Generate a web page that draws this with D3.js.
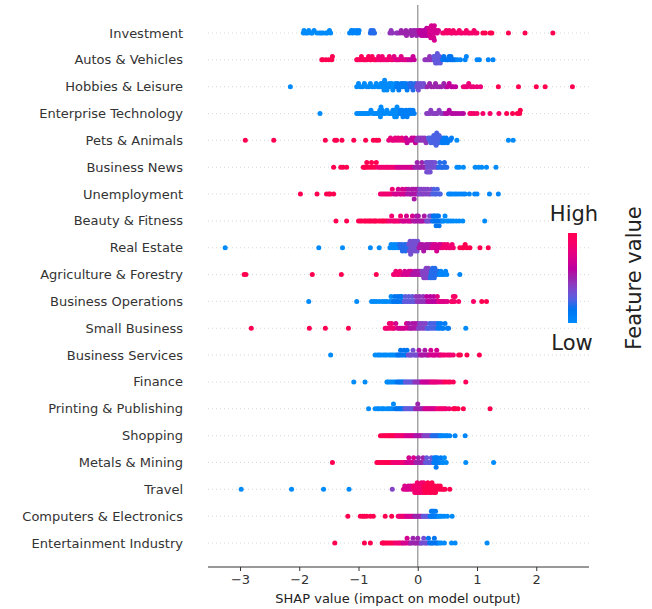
<!DOCTYPE html>
<html><head><meta charset="utf-8">
<script src="https://cdn.jsdelivr.net/npm/d3@7"></script>
<style>body{margin:0;background:#fff}svg{display:block}text{font-family:"DejaVu Sans",sans-serif}</style>
</head><body><div id="chart"></div>
<script>
const features = ["Investment","Autos & Vehicles","Hobbies & Leisure","Enterprise Technology","Pets & Animals","Business News","Unemployment","Beauty & Fitness","Real Estate","Agriculture & Forestry","Business Operations","Small Business","Business Services","Finance","Printing & Publishing","Shopping","Metals & Mining","Travel","Computers & Electronics","Entertainment Industry"];

// For every feature row: groups of [feature value (0 = low, 1 = high), SHAP values]
const shapGroups = [
 [[0,[-1.93,-1.92,-1.89,-1.86,-1.84,-1.8,-1.78,-1.75,-1.7,-1.66,-1.63,-1.6,-1.55,-1.53,-1.49,-1.47]],
  [0.05,[-1.15,-1.12,-1.1,-1.08,-1.04,-1.03,-1.0,-0.99]],
  [0.2,[-0.8,-0.79,-0.76,-0.75,-0.73]],
  [0.45,[-0.47,-0.45,-0.43,-0.36,-0.34]],
  [0.5,[-0.3,-0.28,-0.25,-0.22,-0.2,-0.19,-0.17,-0.14,-0.12,-0.1,-0.09,-0.07,-0.05,-0.03,-0.02,0.0]],
  [0.6,[0.02,0.03,0.05,0.06,0.08,0.1,0.1,0.12,0.13,0.14,0.15,0.16,0.17,0.18]],
  [0.7,[0.19,0.2,0.2,0.21,0.22,0.22,0.23,0.24,0.25,0.25,0.26,0.27,0.28,0.28,0.3,0.31,0.33,0.35]],
  [0.88,[0.42,0.45,0.48,0.5,0.53,0.56,0.58,0.6,0.63,0.66,0.7,0.72,0.75,0.8,0.82,0.85,0.88,0.92,0.95,0.97,1.0]],
  [1,[1.1,1.14,1.22,1.25,1.53,1.81,2.28]]],
 [[1,[-1.62,-1.6,-1.55,-1.5,-1.45,-1.44]],
  [0.95,[-1.03,-1.02,-0.99,-0.96,-0.95,-0.92,-0.9,-0.88,-0.85,-0.83,-0.8,-0.79,-0.77,-0.74,-0.72,-0.7]],
  [0.85,[-0.67,-0.66,-0.63,-0.62,-0.6,-0.58,-0.55,-0.52,-0.5,-0.48,-0.45,-0.42]],
  [0.75,[-0.4,-0.37,-0.35,-0.33,-0.3,-0.28,-0.25,-0.22,-0.2,-0.17]],
  [0.65,[-0.15,-0.12,-0.1,-0.08,-0.06]],
  [0.45,[0.12,0.14,0.17,0.19,0.2,0.22,0.25]],
  [0.3,[0.27,0.28,0.3,0.3,0.31,0.32,0.33,0.33,0.34,0.35,0.36,0.37,0.38,0.4]],
  [0.15,[0.42,0.44,0.47,0.5,0.51,0.53,0.55,0.56,0.58,0.6,0.63]],
  [0.03,[0.67,0.72,0.8,0.82,1.0,1.04,1.19,1.27]]],
 [[0,[-2.15,-1.03,-1.0,-0.97,-0.93,-0.9,-0.86,-0.83,-0.8,-0.77,-0.73,-0.7,-0.67,-0.64,-0.62,-0.6,-0.59,-0.57,-0.56,-0.55,-0.54,-0.52,-0.5,-0.48,-0.46,-0.44,-0.42,-0.4,-0.38]],
  [0.1,[-0.36,-0.34,-0.32,-0.3,-0.28,-0.26,-0.24,-0.22,-0.2,-0.18,-0.16]],
  [0.2,[-0.14,-0.12,-0.1,-0.08,-0.06,-0.04]],
  [0.35,[-0.02,0.0,0.01,0.03,0.05,0.07,0.1,0.13]],
  [0.5,[0.16,0.2,0.23,0.27,0.3,0.33,0.37,0.4,0.44,0.47]],
  [0.62,[0.5,0.53,0.57,0.6,0.64]],
  [0.82,[0.77,0.8,0.83,0.86,0.9,0.94,1.0,1.06]],
  [1,[1.36,1.7,2.0,2.15,2.61]]],
 [[0,[-1.65,-1.03,-1.0,-0.97,-0.94,-0.91,-0.88,-0.85,-0.82,-0.79,-0.76,-0.73,-0.7,-0.67,-0.65,-0.64,-0.63,-0.62,-0.61,-0.6,-0.58,-0.55,-0.52,-0.49,-0.46,-0.43,-0.42,-0.41,-0.4,-0.39,-0.38,-0.37,-0.36,-0.35,-0.34,-0.32]],
  [0.08,[-0.3,-0.29,-0.27,-0.26,-0.25,-0.23,-0.21,-0.2,-0.18,-0.16,-0.15,-0.13,-0.12,-0.1,-0.08,-0.06]],
  [0.42,[0.15,0.17,0.2,0.22,0.25,0.28,0.3,0.33,0.36,0.4,0.43]],
  [0.58,[0.47,0.5,0.53,0.57,0.6,0.64,0.68,0.73,0.77]],
  [0.88,[0.88,0.91,0.95,1.0,1.1,1.22,1.37]],
  [1,[1.5,1.6,1.68,1.72,1.73]]],
 [[1,[-2.91,-2.43,-1.56,-1.4,-1.37,-1.28,-1.08,-0.88,-0.75,-0.7,-0.66]],
  [0.8,[-0.49,-0.46,-0.43,-0.4,-0.38,-0.35,-0.33,-0.3,-0.27,-0.25,-0.22]],
  [0.65,[-0.2,-0.18,-0.15,-0.13,-0.1,-0.08,-0.06,-0.04]],
  [0.45,[-0.02,0.0,0.02,0.04,0.06,0.08,0.1,0.12,0.14,0.16]],
  [0.25,[0.18,0.2,0.21,0.22,0.24,0.25,0.26,0.27,0.28,0.29,0.3,0.3,0.31,0.32,0.33,0.34,0.35,0.36,0.38,0.4]],
  [0.1,[0.41,0.42,0.44,0.45,0.46,0.48,0.5,0.52,0.55,0.57]],
  [0,[0.66,1.53,1.61]]],
 [[1,[-1.42,-1.3,-1.26,-1.2,-0.92,-0.9,-0.88,-0.86,-0.84,-0.8,-0.78,-0.76,-0.72,-0.7]],
  [0.85,[-0.67,-0.64,-0.61,-0.58,-0.55,-0.52,-0.5,-0.47,-0.44,-0.41,-0.38]],
  [0.7,[-0.35,-0.32,-0.3,-0.27,-0.24,-0.21,-0.18,-0.15,-0.12,-0.1,-0.08]],
  [0.5,[-0.05,-0.03,-0.01,0.01,0.03,0.05,0.07,0.09,0.11,0.13]],
  [0.35,[0.14,0.15,0.16,0.17,0.18,0.19,0.2,0.21,0.22,0.23,0.24,0.25,0.27,0.29,0.31,0.33]],
  [0.2,[0.35,0.37,0.39,0.41,0.43,0.45,0.47,0.49]],
  [0,[0.66,0.7,0.77,0.97,1.03,1.08,1.16,1.32]]],
 [[1,[-1.98,-1.7,-1.54,-1.5,-1.48,-1.42]],
  [0.85,[-0.63,-0.6,-0.57,-0.54,-0.51,-0.48,-0.45,-0.43]],
  [0.7,[-0.4,-0.37,-0.35,-0.33,-0.3,-0.28,-0.26,-0.24,-0.22,-0.2]],
  [0.55,[-0.18,-0.16,-0.14,-0.12,-0.1,-0.09,-0.07,-0.06,-0.04,-0.03,-0.01,0.0]],
  [0.4,[0.02,0.03,0.05,0.06,0.08,0.1,0.11,0.13,0.15,0.17,0.19,0.21,0.23]],
  [0.25,[0.25,0.27,0.29,0.31,0.33,0.36,0.38]],
  [0.03,[0.52,0.55,0.58,0.62,0.65,0.69,0.73,0.77,0.8,0.87,0.96,1.0,1.21,1.36]]],
 [[1,[-1.38,-1.2,-1.0,-0.97,-0.94,-0.9,-0.88,-0.85,-0.82,-0.8,-0.77,-0.74,-0.72,-0.7,-0.66,-0.63,-0.6,-0.58,-0.55,-0.52]],
  [0.85,[-0.49,-0.46,-0.44,-0.42,-0.4,-0.38,-0.36,-0.33,-0.31,-0.29]],
  [0.7,[-0.27,-0.25,-0.23,-0.21,-0.19,-0.17,-0.15,-0.13,-0.11,-0.09]],
  [0.55,[-0.07,-0.05,-0.03,-0.02,0.0,0.01,0.03,0.05,0.07,0.09,0.11,0.13]],
  [0.35,[0.15,0.17,0.19,0.2,0.22,0.23]],
  [0.15,[0.25,0.26,0.27,0.28,0.29,0.3,0.31,0.32,0.33,0.34,0.35,0.36,0.38,0.4]],
  [0,[0.42,0.44,0.46,0.49,0.52,0.56,0.6,0.65,0.7,0.76,1.13]]],
 [[0,[-3.25,-1.67,-1.27,-0.8,-0.65,-0.47,-0.45,-0.42,-0.4,-0.38,-0.35,-0.33]],
  [0.2,[-0.31,-0.29,-0.27,-0.26,-0.24,-0.22,-0.21,-0.19,-0.18,-0.16]],
  [0.35,[-0.15,-0.14,-0.13,-0.12,-0.11,-0.1,-0.09,-0.08,-0.07,-0.06,-0.05,-0.04,-0.03,-0.02,-0.01,0.0]],
  [0.55,[0.02,0.04,0.06,0.08,0.1,0.12,0.14,0.16,0.18,0.2,0.22]],
  [0.7,[0.24,0.26,0.28,0.3,0.32,0.34,0.36,0.38,0.4]],
  [0.85,[0.42,0.45,0.48,0.5,0.53,0.56,0.58,0.6]],
  [1,[0.71,0.75,0.77,0.8,0.83,0.88,1.05,1.19]]],
 [[1,[-2.93,-2.9,-1.78,-1.29,-0.7]],
  [0.85,[-0.41,-0.39,-0.37,-0.34,-0.32,-0.3,-0.27]],
  [0.7,[-0.25,-0.22,-0.2,-0.18,-0.15,-0.13,-0.11]],
  [0.55,[-0.09,-0.07,-0.05,-0.03,-0.01,0.01,0.03,0.05]],
  [0.4,[0.07,0.08,0.09,0.1,0.11,0.12,0.13,0.14,0.15,0.16,0.17,0.18,0.19,0.2]],
  [0.2,[0.21,0.22,0.23,0.24,0.25,0.26,0.27,0.28,0.29,0.3,0.31,0.33,0.35]],
  [0.03,[0.37,0.39,0.41,0.44,0.47,0.49,0.71]]],
 [[0,[-1.84,-1.03,-0.78,-0.74,-0.7,-0.65,-0.6,-0.56,-0.52,-0.47,-0.45,-0.43]],
  [0.15,[-0.41,-0.39,-0.37,-0.35,-0.34,-0.32,-0.3,-0.28,-0.27,-0.25]],
  [0.3,[-0.23,-0.21,-0.19,-0.17,-0.15,-0.13,-0.11,-0.09,-0.07,-0.05]],
  [0.45,[-0.03,-0.01,0.01,0.03,0.05,0.07,0.09,0.11,0.13]],
  [0.6,[0.15,0.17,0.19,0.21,0.23,0.25,0.27,0.29,0.31]],
  [0.75,[0.33,0.35,0.37,0.4,0.43,0.46,0.5]],
  [0.9,[0.57,0.58,0.6,0.62,0.63,0.69,0.94]],
  [1,[1.08,1.16]]],
 [[1,[-2.81,-1.83,-1.56,-1.17]],
  [0.85,[-0.55,-0.53,-0.5,-0.48,-0.46,-0.44,-0.42,-0.4]],
  [0.7,[-0.37,-0.34,-0.31,-0.28,-0.25,-0.22,-0.19,-0.17]],
  [0.55,[-0.15,-0.13,-0.11,-0.09,-0.07,-0.05,-0.03,-0.01]],
  [0.4,[0.01,0.03,0.04,0.06,0.08,0.1,0.12,0.14]],
  [0.25,[0.16,0.18,0.2,0.22,0.24,0.26,0.28,0.3,0.32]],
  [0.1,[0.34,0.35,0.37,0.39,0.41,0.43,0.46,0.5,0.52]],
  [0,[0.81]]],
 [[0,[-1.47,-0.72,-0.68,-0.65,-0.62,-0.58,-0.55,-0.52,-0.48,-0.45,-0.42,-0.39,-0.36]],
  [0.15,[-0.34,-0.32,-0.3,-0.29,-0.27,-0.25,-0.23,-0.21,-0.2,-0.18]],
  [0.35,[-0.16,-0.14,-0.12,-0.1,-0.08,-0.06,-0.04,-0.02,0.0]],
  [0.55,[0.02,0.04,0.06,0.08,0.1,0.12,0.14,0.16,0.18]],
  [0.7,[0.2,0.22,0.24,0.26,0.28,0.3,0.32,0.34,0.36,0.38]],
  [0.85,[0.4,0.43,0.46,0.5,0.53,0.56,0.6]],
  [1,[0.69,0.72,0.83,1.04]]],
 [[0,[-1.08,-0.89,-0.52,-0.5,-0.47,-0.44,-0.41,-0.38]],
  [0.15,[-0.35,-0.33,-0.31,-0.29,-0.27,-0.25,-0.23]],
  [0.3,[-0.21,-0.19,-0.17,-0.15,-0.13,-0.11,-0.09,-0.07]],
  [0.45,[-0.05,-0.03,-0.01,0.01,0.03,0.05]],
  [0.65,[0.07,0.09,0.11,0.13,0.15,0.17,0.19,0.21]],
  [0.8,[0.23,0.25,0.27,0.29,0.31,0.33,0.36,0.39,0.42]],
  [0.95,[0.45,0.48,0.52,0.55,0.6,0.81]]],
 [[0,[-0.83,-0.72,-0.68,-0.66,-0.62,-0.59,-0.57,-0.52,-0.49,-0.46,-0.43,-0.41]],
  [0.15,[-0.38,-0.36,-0.34,-0.32,-0.3,-0.28,-0.26,-0.24]],
  [0.3,[-0.22,-0.2,-0.18,-0.16,-0.14,-0.12,-0.1,-0.08,-0.06]],
  [0.5,[-0.04,-0.02,0.0,0.02,0.04,0.06,0.08,0.1]],
  [0.7,[0.12,0.14,0.16,0.18,0.2,0.22,0.24,0.26,0.28,0.3]],
  [0.85,[0.33,0.36,0.38,0.41,0.43,0.46,0.48,0.53]],
  [1,[0.6,0.62,0.64,0.68,0.77,1.22]]],
 [[1,[-0.63,-0.6,-0.57,-0.55,-0.52,-0.5,-0.48,-0.46,-0.44,-0.42,-0.4,-0.38]],
  [0.85,[-0.36,-0.34,-0.32,-0.3,-0.28,-0.26,-0.24,-0.22]],
  [0.7,[-0.2,-0.18,-0.16,-0.14,-0.12,-0.1,-0.08,-0.06]],
  [0.55,[-0.04,-0.02,0.0,0.02,0.04,0.06,0.08]],
  [0.4,[0.1,0.12,0.14,0.16,0.18,0.2,0.22]],
  [0.2,[0.24,0.26,0.28,0.3,0.32,0.34,0.36]],
  [0.03,[0.38,0.4,0.42,0.45,0.48,0.5,0.54,0.63,0.8]]],
 [[1,[-1.44,-0.69,-0.66,-0.63,-0.6,-0.57,-0.54,-0.51,-0.48,-0.45]],
  [0.85,[-0.42,-0.39,-0.36,-0.33,-0.3,-0.27,-0.24,-0.21]],
  [0.7,[-0.19,-0.17,-0.15,-0.13,-0.11,-0.09,-0.07,-0.05]],
  [0.5,[-0.03,-0.01,0.01,0.03,0.05,0.07,0.09,0.11]],
  [0.3,[0.13,0.15,0.17,0.19,0.21,0.23,0.25]],
  [0.1,[0.27,0.28,0.29,0.3,0.31,0.32,0.33,0.35,0.37,0.39]],
  [0,[0.41,0.43,0.45,0.48,0.81,1.28]]],
 [[0,[-2.98,-2.13,-1.59,-1.16]],
  [0.4,[-0.43]],
  [0.72,[-0.24,-0.22,-0.2,-0.18,-0.16,-0.14,-0.12,-0.1]],
  [0.86,[-0.08,-0.07,-0.06,-0.05,-0.04,-0.03,-0.02,-0.01,0.0,0.01,0.02,0.03,0.04,0.05,0.06,0.07,0.08,0.09,0.1]],
  [1,[0.11,0.11,0.12,0.14,0.14,0.15,0.17,0.18,0.18,0.2,0.21,0.22,0.22,0.24,0.25,0.26,0.27,0.28,0.29,0.3,0.32,0.34,0.36,0.38,0.4,0.43,0.46,0.54]]],
 [[1,[-1.18,-0.97,-0.93,-0.9,-0.86,-0.8,-0.75,-0.55,-0.44]],
  [0.85,[-0.33,-0.31,-0.29,-0.27,-0.25,-0.23,-0.21]],
  [0.7,[-0.19,-0.17,-0.15,-0.13,-0.11,-0.09,-0.07]],
  [0.5,[-0.05,-0.03,-0.01,0.01,0.03,0.05,0.07]],
  [0.3,[0.09,0.11,0.13,0.15,0.17,0.19]],
  [0.1,[0.21,0.22,0.23,0.24,0.25,0.26,0.27,0.28,0.29,0.3,0.32,0.34]],
  [0,[0.36,0.38,0.41,0.45,0.5,0.58]]],
 [[1,[-1.4,-0.9,-0.8,-0.6,-0.58,-0.56,-0.53,-0.5,-0.47,-0.44,-0.41]],
  [0.85,[-0.38,-0.35,-0.32,-0.3,-0.27]],
  [0.7,[-0.25,-0.22,-0.2,-0.18,-0.16,-0.14]],
  [0.5,[-0.12,-0.1,-0.08,-0.06,-0.04,-0.02,0.0,0.02,0.04]],
  [0.35,[0.06,0.08,0.1,0.12,0.14,0.16]],
  [0.15,[0.18,0.2,0.22,0.24,0.26,0.28,0.3,0.32,0.34]],
  [0,[0.37,0.4,0.45,0.57,0.63,1.17]]]
];

// x-axis ticks
const xTicks = [-3,-2,-1,0,1,2];
const xDomain = [-3.54, 2.89];

const W = 652, H = 609;
const svg = d3.select("#chart").append("svg").attr("width", W).attr("height", H);

const x = d3.scaleLinear().domain(xDomain).range([208, 589]);
const y = d3.scalePoint().domain(features).range([33, 543]);
const step = y.step();

// SHAP red-blue colormap: LCh (D65) interpolation with darker middle
function lchToHex(L, C, H) {
  const a = C * Math.cos(H), b = C * Math.sin(H);
  const fy = (L + 16) / 116, fx = fy + a / 500, fz = fy - b / 200;
  const inv = t => t > 6 / 29 ? t * t * t : 3 * (6 / 29) * (6 / 29) * (t - 4 / 29);
  const X = 0.95047 * inv(fx), Y = inv(fy), Z = 1.08883 * inv(fz);
  const lin = [3.2406 * X - 1.5372 * Y - 0.4986 * Z,
               -0.9689 * X + 1.8758 * Y + 0.0415 * Z,
               0.0557 * X - 0.2040 * Y + 1.0570 * Z];
  const g = v => { v = Math.max(0, Math.min(1, v)); return v <= 0.0031308 ? 12.92 * v : 1.055 * Math.pow(v, 1 / 2.4) - 0.055; };
  return d3.rgb(...lin.map(v => Math.round(255 * g(v)))).formatHex();
}
function shapColor(t) {
  const l = t < 0.5 ? 54 - 28 * t : 40 + 28 * (t - 0.5);
  const c = 70 + 20 * t;
  const h = 4.6588 + t * (0.35470565 + 2 * Math.PI - 4.6588);
  return lchToHex(l, c, h);
}

// gridlines
svg.append("g").selectAll("line").data(features).join("line")
  .attr("x1", 208).attr("x2", 589)
  .attr("y1", d => y(d)).attr("y2", d => y(d))
  .attr("stroke", "#cccccc").attr("stroke-width", 0.8).attr("stroke-dasharray", "1,3");

// zero line
svg.append("line").attr("x1", x(0)).attr("x2", x(0)).attr("y1", 5).attr("y2", 567)
  .attr("stroke", "#999").attr("stroke-width", 1.3);

// beeswarm (SHAP-style binning)
function swarm(vals) {
  const N = vals.length, mn = d3.min(vals), mx = d3.max(vals);
  const q = vals.map(v => Math.round(100 * (v - mn) / (mx - mn + 1e-8)));
  const inds = d3.range(N).sort((a, b) => (q[a] - q[b]) || (vals[a] - vals[b]) || (a - b));
  const ys = new Array(N).fill(0);
  let layer = 0, last = -1;
  for (const i of inds) {
    if (q[i] !== last) layer = 0;
    ys[i] = Math.ceil(layer / 2) * ((layer % 2) * 2 - 1);
    layer++; last = q[i];
  }
  const m = d3.max(ys, v => v + 1);
  return ys.map(v => v * 0.9 * (0.4 / m));
}

const pts = [];
features.forEach((f, r) => {
  const flat = [];
  shapGroups[r].forEach(([fv, vals]) => vals.forEach(v => flat.push({f, v, fv})));
  const off = swarm(flat.map(d => d.v));
  flat.forEach((d, i) => { d.dy = off[i]; pts.push(d); });
});

svg.append("g").selectAll("circle").data(pts).join("circle")
  .attr("cx", d => x(d.v))
  .attr("cy", d => y(d.f) - d.dy * step)
  .attr("r", 2.5)
  .attr("fill", d => shapColor(d.fv));

// feature labels
svg.append("g").selectAll("text").data(features).join("text")
  .attr("x", 183).attr("y", d => y(d)).attr("dy", "0.35em")
  .attr("text-anchor", "end").attr("font-size", 13).attr("fill", "#333")
  .text(d => d);

// x axis
const ax = svg.append("g").attr("transform", "translate(0,567)")
  .call(d3.axisBottom(x).tickValues(xTicks).tickFormat(d3.format("d")).tickSize(4).tickPadding(4).tickSizeOuter(0));
ax.select(".domain").attr("stroke", "#333").attr("d", "M208,0H589");
ax.selectAll(".tick line").attr("stroke", "#333");
ax.selectAll(".tick text").attr("font-size", 13).attr("fill", "#333").attr("font-family", "DejaVu Sans");

svg.append("text").attr("x", 398).attr("y", 603).attr("text-anchor", "middle")
  .attr("font-size", 13).attr("fill", "#222").text("SHAP value (impact on model output)");

// colorbar
const defs = svg.append("defs");
const grad = defs.append("linearGradient").attr("id", "cb").attr("x1", 0).attr("x2", 0).attr("y1", 1).attr("y2", 0);
d3.range(0, 21).forEach(k => grad.append("stop").attr("offset", k / 20).attr("stop-color", shapColor(k / 20)));
svg.append("rect").attr("x", 568).attr("y", 233).attr("width", 9).attr("height", 90).attr("fill", "url(#cb)");
svg.append("text").attr("x", 574).attr("y", 221).attr("text-anchor", "middle").attr("font-size", 21).attr("fill", "#222").text("High");
svg.append("text").attr("x", 572).attr("y", 350).attr("text-anchor", "middle").attr("font-size", 21).attr("fill", "#222").text("Low");
svg.append("text").attr("transform", "translate(641,278) rotate(-90)").attr("text-anchor", "middle")
  .attr("font-size", 21).attr("fill", "#222").text("Feature value");
</script></body></html>
